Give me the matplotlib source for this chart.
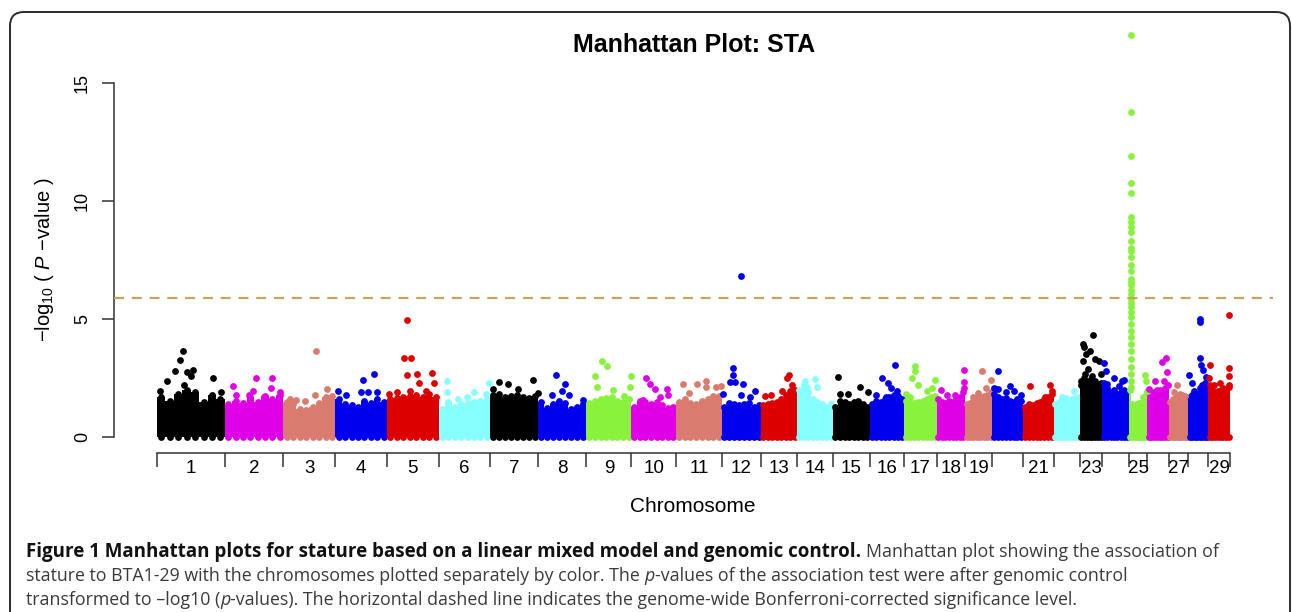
import matplotlib.pyplot as plt
import numpy as np
from matplotlib.patches import FancyBboxPatch
from matplotlib.transforms import IdentityTransform

plt.rcParams['font.family'] = ['Liberation Sans', 'DejaVu Sans']
plt.rcParams['mathtext.fontset'] = 'custom'
plt.rcParams['mathtext.rm'] = 'Liberation Sans'
plt.rcParams['mathtext.it'] = 'Liberation Sans:italic'

# chromosome lengths (Mb), BTA1-29
chrom_len = [158, 137, 121, 120, 121, 119, 112, 113, 105, 104, 107, 91, 84, 84, 85,
             81, 75, 66, 64, 72, 71, 61, 52, 62, 43, 51, 45, 46, 51]
chrom_col = ['#000000', '#E000E8', '#DA7B6F', '#0000EE', '#DD0000', '#88FFFF',
             '#000000', '#0000EE', '#88F23C', '#E000E8', '#DA7B6F', '#0000EE', '#DD0000', '#88FFFF',
             '#000000', '#0000EE', '#88F23C', '#E000E8', '#DA7B6F', '#0000EE', '#DD0000', '#88FFFF',
             '#000000', '#0000EE', '#88F23C', '#E000E8', '#DA7B6F', '#0000EE', '#DD0000']
chrom_lab = ['1', '2', '3', '4', '5', '6', '7', '8', '9', '10', '11', '12', '13', '14', '15',
             '16', '17', '18', '19', '', '21', '', '23', '', '25', '', '27', '', '29']

# upper edge of the dense SNP cloud along each chromosome (-log10 p)
bulk = [
    [1.7, 1.55, 1.85, 2.0, 1.9, 1.5, 1.8, 1.6],
    [1.4, 1.55, 1.45, 1.7, 1.5, 1.75, 1.6, 1.8],
    [1.5, 1.4, 1.2, 1.15, 1.3, 1.45, 1.7, 1.75],
    [1.6, 1.4, 1.35, 1.3, 1.55, 1.45, 1.6, 1.5],
    [1.6, 1.65, 1.7, 1.75, 1.8, 1.7, 1.85, 1.7],
    [1.2, 1.5, 1.3, 1.4, 1.45, 1.5, 1.55, 1.6],
    [1.8, 1.85, 1.7, 1.75, 1.8, 1.7, 1.65, 1.75],
    [1.5, 1.25, 1.4, 1.55, 1.45, 1.2, 1.3, 1.4],
    [1.45, 1.55, 1.6, 1.65, 1.7, 1.55, 1.5, 1.6],
    [1.3, 1.55, 1.5, 1.4, 1.5, 1.35, 1.25, 1.3],
    [1.5, 1.6, 1.45, 1.4, 1.55, 1.6, 1.7, 1.75],
    [1.3, 1.45, 1.4, 1.35, 1.4, 1.45, 1.3, 1.35],
    [1.35, 1.4, 1.45, 1.5, 1.6, 1.8, 1.95, 2.0],
    [2.0, 2.2, 1.9, 1.6, 1.5, 1.4, 1.3, 1.4],
    [1.3, 1.55, 1.5, 1.4, 1.5, 1.55, 1.4, 1.3],
    [1.4, 1.55, 1.5, 1.6, 1.7, 1.8, 1.75, 1.6],
    [1.55, 1.5, 1.45, 1.5, 1.55, 1.6, 1.7, 1.75],
    [1.6, 1.5, 1.45, 1.55, 1.5, 1.6, 1.7, 1.9],
    [1.4, 1.45, 1.55, 1.6, 1.7, 1.75, 1.8, 1.9],
    [1.85, 1.7, 1.6, 1.65, 1.55, 1.5, 1.6, 1.55],
    [1.3, 1.4, 1.35, 1.45, 1.5, 1.6, 1.7, 1.85],
    [1.4, 1.5, 1.55, 1.45, 1.5, 1.6, 1.65, 1.7],
    [2.2, 2.5, 2.4, 2.3, 2.6, 2.4, 2.2, 2.3],
    [2.3, 2.1, 1.9, 2.0, 1.85, 1.9, 2.0, 1.9],
    [2.0, 1.4, 1.35, 1.4, 1.45, 1.5, 1.6, 1.8],
    [1.9, 1.8, 1.9, 2.0, 2.0, 1.95, 2.1, 2.2],
    [1.5, 1.6, 1.65, 1.7, 1.75, 1.8, 1.7, 1.6],
    [1.7, 1.8, 1.75, 1.85, 2.1, 2.2, 2.3, 2.1],
    [2.2, 2.0, 1.9, 1.95, 2.0, 2.1, 1.95, 2.2],
]

# isolated SNPs above the cloud: (chromosome, position Mb, -log10 p)
peaks = [
    (1, 60, 3.67), (1, 54, 3.29), (1, 43, 2.82), (1, 71, 2.78), (1, 85, 2.87), (1, 79, 2.61),
    (1, 24, 2.37), (1, 130, 2.49), (1, 62, 2.23), (1, 8, 1.95), (1, 150, 1.9),
    (2, 19, 2.19), (2, 27, 1.81), (2, 73, 2.5), (2, 110, 2.51), (2, 67, 1.98), (2, 56, 1.81),
    (2, 108, 2.09), (2, 130, 1.9), (2, 92, 1.7),
    (3, 76, 3.67), (3, 102, 2.05), (3, 74, 1.77), (3, 51, 1.55), (3, 29, 1.58), (3, 15, 1.6),
    (4, 65, 2.41), (4, 90, 2.69), (4, 7, 1.98), (4, 25, 1.81), (4, 60, 1.91), (4, 76, 1.91), (4, 96, 1.91),
    (5, 47, 4.96), (5, 40, 3.37), (5, 57, 3.37), (5, 47, 2.62), (5, 69, 2.69), (5, 106, 2.73),
    (5, 75, 2.29), (5, 110, 2.29), (5, 4, 1.84), (5, 23, 1.91), (5, 53, 1.98), (5, 92, 1.98),
    (6, 20, 2.37), (6, 20, 1.9), (6, 44, 1.62), (6, 82, 1.9), (6, 118, 2.3), (6, 109, 1.84), (6, 65, 1.7),
    (7, 22, 2.34), (7, 43, 2.25), (7, 7, 2.06), (7, 66, 2.06), (7, 101, 2.44), (7, 111, 1.89),
    (8, 41, 2.62), (8, 64, 2.24), (8, 32, 1.81), (8, 57, 1.98), (8, 73, 1.81), (8, 105, 1.59),
    (9, 37, 3.23), (9, 48, 3.02), (9, 20, 2.58), (9, 103, 2.59), (9, 25, 2.15), (9, 101, 2.12),
    (9, 62, 2.0), (9, 88, 1.73),
    (10, 34, 2.5), (10, 43, 2.27), (10, 54, 2.05), (10, 82, 2.05), (10, 86, 1.81), (10, 27, 1.59), (10, 67, 1.7),
    (11, 17, 2.24), (11, 48, 2.24), (11, 70, 2.38), (11, 70, 2.12), (11, 94, 2.15), (11, 104, 2.17),
    (11, 29, 1.87), (11, 87, 1.73),
    (12, 45, 6.83), (12, 26, 2.95), (12, 26, 2.62), (12, 19, 2.34), (12, 30, 2.34), (12, 50, 2.24),
    (12, 77, 1.94), (12, 2, 1.84), (12, 45, 1.77), (12, 66, 1.7),
    (13, 66, 2.65), (13, 60, 2.52), (13, 71, 2.2), (13, 9, 1.74), (13, 23, 1.8), (13, 48, 1.94),
    (14, 18, 2.38), (14, 42, 2.48), (14, 23, 2.12), (14, 46, 2.12),
    (15, 12, 2.57), (15, 62, 2.12), (15, 81, 1.93), (15, 17, 1.84), (15, 35, 1.84),
    (16, 60, 3.06), (16, 29, 2.51), (16, 42, 2.3), (16, 50, 2.09), (16, 63, 1.98), (16, 15, 1.77), (16, 37, 1.69),
    (17, 24, 3.0), (17, 24, 2.82), (17, 18, 2.5), (17, 32, 2.23), (17, 72, 2.44), (17, 53, 1.95),
    (17, 4, 1.84), (17, 14, 1.69), (17, 64, 2.09),
    (18, 63, 2.85), (18, 63, 2.36), (18, 63, 2.09), (18, 11, 2.02), (18, 44, 1.77), (18, 24, 1.77),
    (19, 40, 2.81), (19, 60, 2.44), (19, 50, 2.09), (19, 20, 1.69), (19, 31, 1.86),
    (20, 13, 2.81), (20, 42, 2.19), (20, 4, 2.09), (20, 13, 2.05), (20, 32, 1.9), (20, 66, 1.77), (20, 50, 1.95),
    (21, 16, 2.17), (21, 62, 2.22), (21, 67, 1.98), (21, 50, 1.7),
    (22, 20, 1.72), (22, 48, 1.95), (22, 29, 1.67),
    (23, 31, 4.34), (23, 8, 3.95), (23, 10, 3.81), (23, 15, 3.53), (23, 23, 3.67), (23, 35, 3.32),
    (23, 44, 3.25), (23, 7, 3.25), (23, 19, 2.9), (23, 48, 2.68), (23, 11, 2.68), (23, 27, 2.47), (23, 3, 2.4),
    (24, 4, 3.14), (24, 9, 2.82), (24, 27, 2.5), (24, 46, 2.4), (24, 51, 2.43), (24, 12, 2.26), (24, 38, 2.19),
    (25, 4.0, 17.05), (25, 4.0, 13.8), (25, 4.0, 11.92), (25, 4.2, 10.78), (25, 4.2, 10.34),
    (25, 4.0, 9.32), (25, 4.2, 9.1), (25, 4.3, 8.9), (25, 4.3, 8.69), (25, 4.1, 8.3), (25, 4.1, 8.03),
    (25, 4.5, 7.91), (25, 4.2, 7.63), (25, 4.4, 7.3), (25, 4.0, 7.06), (25, 4.3, 6.71), (25, 4.6, 6.57),
    (25, 4.2, 6.43), (25, 4.4, 6.22), (25, 4.0, 6.08), (25, 4.5, 5.86), (25, 4.2, 5.7), (25, 4.4, 5.51),
    (25, 4.6, 5.3), (25, 4.3, 5.08), (25, 4.6, 4.8), (25, 4.1, 4.52), (25, 4.6, 4.24), (25, 4.8, 3.96),
    (25, 5.0, 3.67), (25, 4.6, 3.32), (25, 5.3, 2.97), (25, 5.8, 2.69), (25, 5.5, 2.4), (25, 6.0, 2.12),
    (25, 37, 2.65), (25, 39, 2.4), (25, 34, 1.7), (25, 42, 1.98),
    (26, 44, 3.35), (26, 34, 3.19), (26, 45, 2.76), (26, 18, 2.4), (26, 4, 2.05), (26, 39, 2.4),
    (27, 19, 2.22), (27, 11, 1.91), (27, 26, 1.84), (27, 37, 1.73),
    (28, 26, 5.03), (28, 26, 4.89), (28, 28, 3.36), (28, 29, 3.05), (28, 1, 2.62), (28, 8, 2.31),
    (28, 40, 2.55), (28, 34, 2.83), (28, 12, 1.94),
    (29, 49, 5.18), (29, 5, 3.05), (29, 49.5, 2.95), (29, 49.5, 2.58), (29, 1.5, 2.52), (29, 28, 2.29),
    (29, 49.5, 2.12), (29, 13, 2.2),
]

threshold = 5.92  # Bonferroni-corrected genome-wide level

W, H = 1292, 612
fig = plt.figure(figsize=(W / 100, H / 100), dpi=100)

# rounded frame round the figure
frame = FancyBboxPatch((10, -30), 1280, 30 + H - 12, boxstyle='round,pad=0,rounding_size=14',
                       transform=IdentityTransform(), facecolor='none', edgecolor='#2b2b2b',
                       linewidth=1.4)
fig.patches.append(frame)

ax = fig.add_axes([114 / W, 1 - 453.3 / H, (1273 - 114) / W, (453.3 - 18.3) / H])

offsets = np.concatenate([[0], np.cumsum(chrom_len)])
total = offsets[-1]

for i, L in enumerate(chrom_len):
    col = chrom_col[i]
    h = np.array(bulk[i])
    n = len(h)
    w = L / n
    xs = offsets[i] + (np.arange(n) + 0.5) * w
    ax.bar(xs, h, width=w, color=col, linewidth=0, zorder=2)
    ax.scatter(xs, h, s=24, color=col, linewidths=0, zorder=2)
    ax.scatter(xs, np.zeros(n), s=24, color=col, linewidths=0, zorder=2)
    pk = [(p, v) for c, p, v in peaks if c == i + 1]
    if pk:
        px = [offsets[i] + p for p, v in pk]
        pv = [v for p, v in pk]
        ax.scatter(px, pv, s=24, color=col, linewidths=0, zorder=3)

ax.axhline(threshold, color='#C8A45E', linestyle=(0, (4.5, 3.5)), linewidth=1.6, zorder=4)

ax.set_xlim(-100, total + 100)
ax.set_ylim(-0.68, 17.75)

for s in ['top', 'right']:
    ax.spines[s].set_visible(False)
ax.spines['left'].set_bounds(0, 15)
ax.spines['bottom'].set_bounds(0, total)
for s in ['left', 'bottom']:
    ax.spines[s].set_color('#333333')
    ax.spines[s].set_linewidth(1.1)

ax.set_yticks([0, 5, 10, 15])
ax.set_yticklabels(['0', '5', '10', '15'], rotation=90, va='center', fontsize=13)
ax.tick_params(axis='y', length=8.6, width=1.1, color='#333333', pad=8)

ax.set_xticks(offsets)
ax.set_xticklabels([])
ax.set_xticks(offsets[:-1] + np.array(chrom_len) / 2, minor=True)
ax.set_xticklabels(chrom_lab, minor=True, fontsize=13.5)
ax.tick_params(axis='x', which='major', length=10, width=1.1, color='#333333')
ax.tick_params(axis='x', which='minor', length=0, pad=4.5)

fig.text(694 / W, 1 - 45 / H, 'Manhattan Plot: STA', ha='center', va='center',
         fontsize=18, fontweight='bold')
fig.text(693 / W, 1 - 507 / H, 'Chromosome', ha='center', va='center', fontsize=15)
fig.text(45 / W, 1 - 260 / H, r'$-\mathrm{log}_{10}$ ( $\mathit{P}$ $-$value )', rotation=90,
         ha='center', va='center', fontsize=14.5)

# caption
renderer = fig.canvas.get_renderer()
cap_font = ['Open Sans', 'DejaVu Sans']


def rich_line(x_px, base_px, parts):
    x = x_px
    for txt, weight, style, color in parts:
        size = 13.5 if weight == 'bold' else 12.8
        t = fig.text(x / W, 1 - base_px / H, txt, family=cap_font, fontsize=size,
                     fontweight=weight, fontstyle=style, color=color, va='baseline')
        bb = t.get_window_extent(renderer=renderer)
        x = bb.x1


grey = '#3a3a3a'
rich_line(26, 557, [
    ('Figure 1 Manhattan plots for stature based on a linear mixed model and genomic control. ',
     'bold', 'normal', '#111111'),
    ('Manhattan plot showing the association of', 'normal', 'normal', grey),
])
rich_line(26, 581, [
    ('stature to BTA1-29 with the chromosomes plotted separately by color. The ', 'normal', 'normal', grey),
    ('p', 'normal', 'italic', grey),
    ('-values of the association test were after genomic control', 'normal', 'normal', grey),
])
rich_line(26, 605, [
    ('transformed to \u2013log10 (', 'normal', 'normal', grey),
    ('p', 'normal', 'italic', grey),
    ('-values). The horizontal dashed line indicates the genome-wide Bonferroni-corrected significance level.',
     'normal', 'normal', grey),
])

fig.savefig('out.png', dpi=100)
